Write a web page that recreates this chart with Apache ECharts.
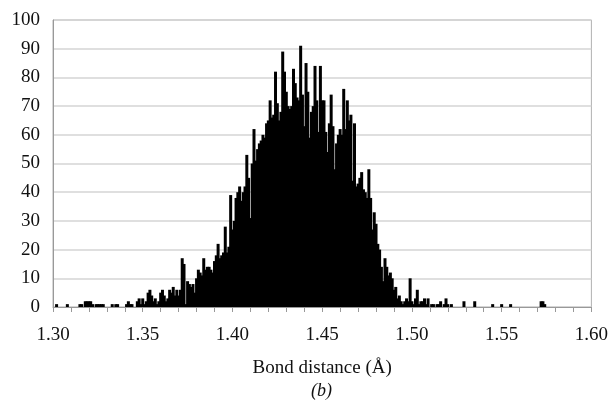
<!DOCTYPE html>
<html>
<head>
<meta charset="utf-8">
<script src="https://cdn.jsdelivr.net/npm/echarts@6/dist/echarts.min.js"></script>
<style>
  html, body { margin: 0; padding: 0; background: #fff; }
  #chart { width: 611px; height: 405px; }
</style>
</head>
<body>
<div id="chart"></div>
<script>
// histogram bins: 0.001 Å wide, starting at 1.300 Å
const binStart = 1.300
const binWidth = 0.001

// counts per bin, one row = 0.01 Å
const counts = [
  0, 0, 1, 0, 0, 0, 0, 0, 1, 0,
  0, 0, 0, 0, 0, 1, 1, 0, 2, 2,
  2, 2, 1, 0, 1, 1, 1, 1, 1, 0,
  0, 0, 0, 1, 0, 1, 1, 0, 0, 0,
  0, 1, 2, 1, 1, 0, 0, 2, 3, 1,
  3, 1, 2, 5, 6, 4, 2, 3, 1, 2,
  5, 6, 4, 2, 3, 6, 5, 7, 4, 6,
  4, 6, 17, 15, 1, 9, 8, 7, 8, 5,
  10, 13, 12, 11, 17, 13, 14, 14, 13, 12,
  16, 18, 22, 17, 18, 19, 28, 19, 21, 39,
  27, 30, 38, 40, 42, 37, 40, 42, 53, 45,
  31, 50, 62, 51, 55, 57, 58, 60, 59, 64,
  65, 72, 66, 67, 82, 71, 65, 68, 89, 82,
  75, 70, 69, 70, 83, 78, 73, 72, 91, 74,
  63, 85, 75, 59, 68, 70, 84, 72, 61, 84,
  72, 72, 61, 54, 64, 74, 63, 48, 57, 60,
  62, 60, 76, 62, 72, 65, 67, 44, 64, 42,
  43, 45, 47, 41, 40, 38, 48, 38, 27, 33,
  29, 22, 20, 14, 9, 17, 14, 11, 12, 10,
  6, 7, 3, 4, 2, 1, 2, 3, 2, 10,
  2, 1, 3, 6, 1, 2, 2, 3, 1, 3,
  0, 1, 1, 0, 1, 1, 2, 0, 1, 3,
  1, 0, 1, 0, 0, 0, 0, 0, 0, 2,
  0, 0, 0, 0, 0, 2, 0, 0, 0, 0,
  0, 0, 0, 0, 0, 1, 0, 0, 0, 0,
  1, 0, 0, 0, 0, 1, 0, 0, 0, 0,
  0, 0, 0, 0, 0, 0, 0, 0, 0, 0,
  0, 0, 2, 2, 1, 0, 0, 0, 0, 0,
  0, 0, 0, 0, 0, 0, 0, 0, 0, 0,
  0, 0, 0, 0, 0, 0, 0, 0, 0, 0
]

const xTicks = [1.30, 1.35, 1.40, 1.45, 1.50, 1.55, 1.60]
const yTicks = [0, 10, 20, 30, 40, 50, 60, 70, 80, 90, 100]

const seriesData = counts.map((c, i) => [+(binStart + i * binWidth).toFixed(3), c])

const font = 'Liberation Serif'

const chart = echarts.init(document.getElementById('chart'))
const option = {
  animation: false,
  grid: {
    left: 53,
    right: 19,
    top: 20,
    bottom: 98,
    show: true,
    borderColor: '#b0b0b0',
    borderWidth: 1
  },
  xAxis: {
    type: 'value',
    min: xTicks[0],
    max: xTicks[xTicks.length - 1],
    interval: 0.05,
    name: 'Bond distance (Å)',
    nameLocation: 'middle',
    nameGap: 52,
    nameTextStyle: { fontFamily: font, fontSize: 19, color: '#111' },
    axisLine: { show: true, lineStyle: { color: '#999', width: 1 } },
    axisTick: { show: true, length: 5, lineStyle: { color: '#999' } },
    minorTick: { show: true, splitNumber: 5, length: 5, lineStyle: { color: '#999' } },
    splitLine: { show: false },
    axisLabel: {
      fontFamily: font,
      fontSize: 19,
      color: '#111',
      margin: 19,
      formatter: (v) => v.toFixed(2)
    }
  },
  yAxis: {
    type: 'value',
    min: yTicks[0],
    max: yTicks[yTicks.length - 1],
    interval: 10,
    axisLine: { show: true, lineStyle: { color: '#999', width: 1 } },
    axisTick: { show: false },
    splitLine: { show: true, lineStyle: { color: '#d4d4d4', width: 1.5 } },
    axisLabel: {
      fontFamily: font,
      fontSize: 19,
      color: '#111',
      margin: 13
    }
  },
  graphic: [
    {
      type: 'text',
      left: 311,
      top: 382,
      style: {
        text: '(b)',
        font: 'italic 18px "Liberation Serif"',
        fill: '#111'
      }
    }
  ],
  series: [
    {
      type: 'bar',
      data: seriesData,
      barWidth: 3,
      itemStyle: { color: '#000' },
      emphasis: { disabled: true }
    }
  ]
}
chart.setOption(option)
</script>
</body>
</html>
